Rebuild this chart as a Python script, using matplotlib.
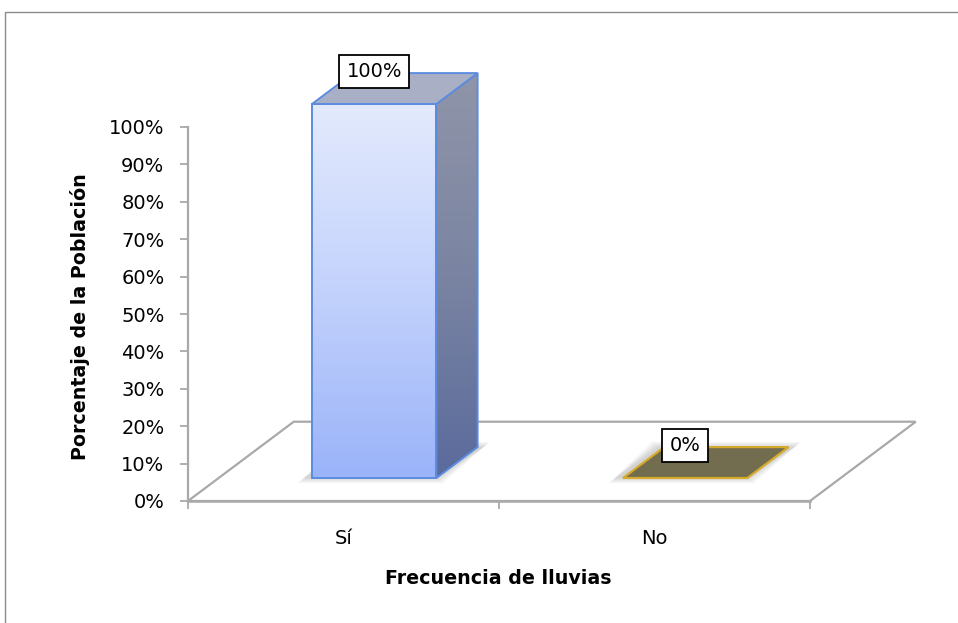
import numpy as np
import matplotlib
matplotlib.use("Agg")
import matplotlib.pyplot as plt
from matplotlib.patches import Polygon, Rectangle
from matplotlib.colors import LinearSegmentedColormap
from matplotlib.ticker import FuncFormatter

# --- data -------------------------------------------------------------
categorias = ["Sí", "No"]
porcentajes = [100, 0]
etiquetas = ["100%", "0%"]
yticks = [0, 10, 20, 30, 40, 50, 60, 70, 80, 90, 100]
titulo_x = "Frecuencia de lluvias"
titulo_y = "Porcentaje de la Población"

# --- 3D look parameters (category units / percent units) --------------
DEPTH_DX, DEPTH_DY = 0.34, 21.2      # floor depth offset
F_FRONT, F_BACK = 0.29, 0.68          # bar position inside the depth
BAR_W = 0.40                          # bar width as fraction of a slot

plt.rcParams["font.family"] = ["DejaVu Sans"]

W, H = 958, 623
fig = plt.figure(figsize=(W / 100, H / 100), dpi=100)
fig.patch.set_facecolor("white")

# outer chart frame
fig.add_artist(Rectangle((4.5 / W, -0.5), 2, 1.5 - 11.5 / H, transform=fig.transFigure,
                         fill=False, ec="#8c8c8c", lw=1.0))

ax = fig.add_axes([188 / W, (H - 501) / H, 622 / W, 374 / H])
ax.set_facecolor("none")
n = len(categorias)
ax.set_xlim(0, n)
ax.set_ylim(0, 100)

gray = "#a9a9a9"

# floor
floor = Polygon([(0, 0), (n, 0), (n + DEPTH_DX, DEPTH_DY), (DEPTH_DX, DEPTH_DY)],
                closed=True, fc="white", ec=gray, lw=1.6, clip_on=False, zorder=1)
ax.add_patch(floor)

# axes styling
for s in ("top", "right"):
    ax.spines[s].set_visible(False)
ax.spines["left"].set_bounds(0, 100)
ax.spines["left"].set_color(gray)
ax.spines["left"].set_linewidth(1.6)
ax.spines["bottom"].set_color(gray)
ax.spines["bottom"].set_linewidth(1.8)
ax.spines["bottom"].set_zorder(2)

ax.set_yticks(yticks)
ax.yaxis.set_major_formatter(FuncFormatter(lambda v, p: f"{v:.0f}%"))
ax.tick_params(axis="y", direction="out", length=6, width=1.3, color=gray,
               labelsize=14, pad=11, labelcolor="black")

ax.set_xticks(np.arange(n + 1))
ax.set_xticklabels([])
ax.set_xticks(np.arange(n) + 0.5, minor=True)
ax.set_xticklabels(categorias, minor=True)
ax.tick_params(axis="x", which="major", direction="out", length=6, width=1.3, color=gray)
ax.tick_params(axis="x", which="minor", length=0, labelsize=14, pad=20, labelcolor="black")

fig.text(498 / W, 1 - 578 / H, titulo_x, ha="center", va="center",
         fontsize=13.7, fontweight="bold")
fig.text(80 / W, 1 - 317 / H, titulo_y, ha="center", va="center", rotation=90,
         fontsize=13.7, fontweight="bold")

front_cmap = LinearSegmentedColormap.from_list("front", ["#9ab3f9", "#c3d2fc", "#e3eafd"])
side_cmap = LinearSegmentedColormap.from_list("side", ["#5a6a9c", "#7a84a2", "#9095a8"])

ddx = (F_BACK - F_FRONT) * DEPTH_DX
ddy = (F_BACK - F_FRONT) * DEPTH_DY
grad = np.linspace(0, 1, 256).reshape(-1, 1)


def gradient_fill(poly, extent, cmap, z):
    im = ax.imshow(grad, extent=extent, origin="lower", aspect="auto", cmap=cmap,
                   interpolation="bilinear", zorder=z)
    im.set_clip_box(fig.bbox)
    im.set_clip_path(poly)


for i, (cat, val, lab) in enumerate(zip(categorias, porcentajes, etiquetas)):
    x0 = i + 0.5 - BAR_W / 2 + F_FRONT * DEPTH_DX
    y0 = F_FRONT * DEPTH_DY
    x1 = x0 + BAR_W
    top = y0 + val
    base = [(x0, y0), (x1, y0), (x1 + ddx, y0 + ddy), (x0 + ddx, y0 + ddy)]

    # soft shadow on the floor
    for k in range(5):
        e = 0.005 * k
        ey = 0.35 * k
        sh = Polygon([(x0 - 0.025 - e, y0 - ey), (x1 + e, y0 - ey),
                      (x1 + ddx + 0.02 + e, y0 + ddy + ey), (x0 + ddx - 0.02 - e, y0 + ddy + ey)],
                     closed=True, fc="#000000", ec="none", alpha=0.035, clip_on=False, zorder=3)
        ax.add_patch(sh)

    if val > 0:
        front = Polygon([(x0, y0), (x1, y0), (x1, top), (x0, top)], closed=True,
                        fc="none", ec="#5b8ce0", lw=1.4, clip_on=False, zorder=6,
                        transform=ax.transData)
        side = Polygon([(x1, y0), (x1 + ddx, y0 + ddy), (x1 + ddx, top + ddy), (x1, top)],
                       closed=True, fc="none", ec="#5b8ce0", lw=1.4, clip_on=False, zorder=6,
                       transform=ax.transData)
        cap = Polygon([(x0, top), (x1, top), (x1 + ddx, top + ddy), (x0 + ddx, top + ddy)],
                      closed=True, fc="#a9b0c6", ec="#5b8ce0", lw=1.4, clip_on=False, zorder=6)
        gradient_fill(front, (x0, x1, y0, top), front_cmap, 5)
        gradient_fill(side, (x1, x1 + ddx, y0, top + ddy), side_cmap, 5)
        ax.add_patch(front)
        ax.add_patch(side)
        ax.add_patch(cap)
    else:
        plate = Polygon(base, closed=True, fc="#736d4f", ec="#d6aa2c", lw=1.6,
                        clip_on=False, zorder=6)
        ax.add_patch(plate)

    ax.text((x0 + x1) / 2, top + 8.7, lab, ha="center", va="center", fontsize=14,
            zorder=8, clip_on=False,
            bbox=dict(boxstyle="square,pad=0.38", fc="white", ec="black", lw=1.3))

ax.set_xlim(0, n)
ax.set_ylim(0, 100)

fig.savefig("out.png", dpi=100, facecolor="white")
